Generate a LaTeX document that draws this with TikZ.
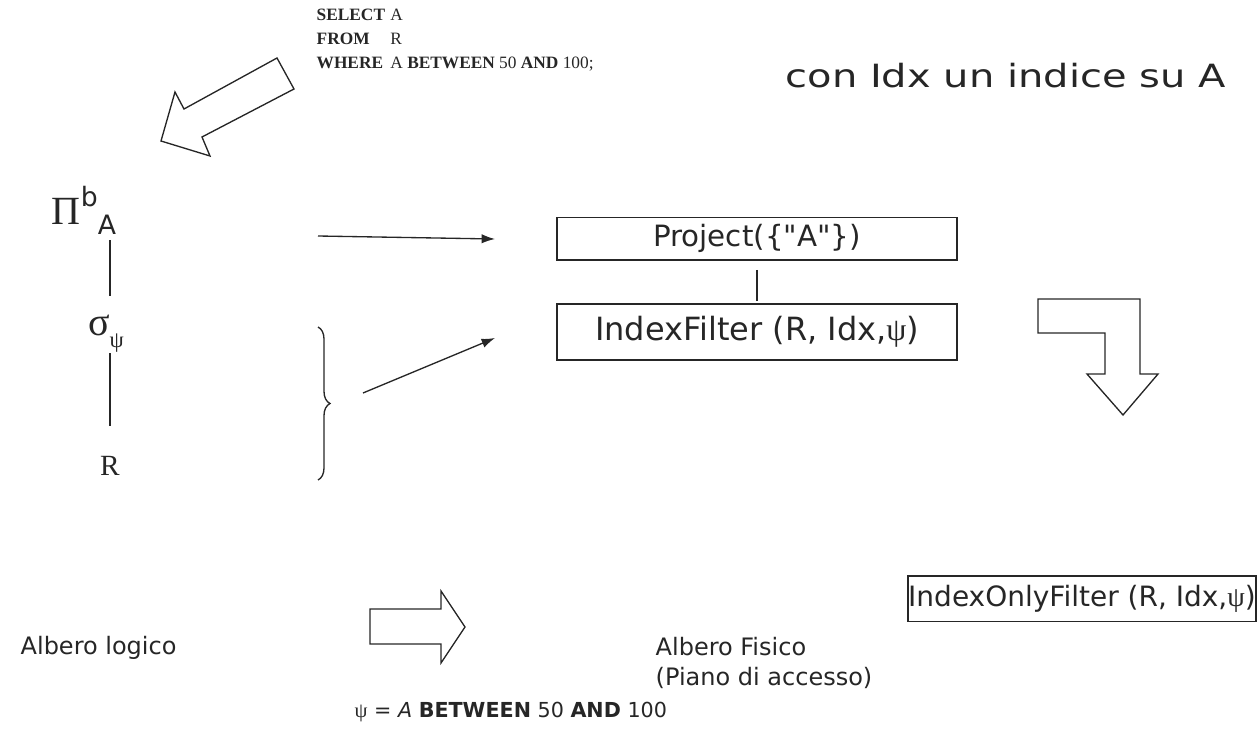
\documentclass[tikz,border=0pt]{standalone}
\usepackage{amsmath}
\usepackage{fontspec}
\setmainfont{DejaVu Sans}
\newfontfamily\timesfont{Liberation Serif}
\newfontfamily\plainsans[Ligatures=TeXOff]{DejaVu Sans}
\newfontfamily\widesans[FakeStretch=1.25]{DejaVu Sans}
\usetikzlibrary{arrows,arrows.meta,positioning,decorations.pathreplacing}

\tikzset{
  opbox/.style={draw, rectangle, inner sep=0pt},
  comic/.style={font=\plainsans\fontsize{22}{27}\selectfont},
  small/.style={font=\fontsize{18}{22}\selectfont},
  hollow/.style={draw, line width=1pt, line join=miter},
  greek/.style={inner sep=0pt, font=\timesfont\fontsize{30}{34}\selectfont},
}

\begin{document}
\begin{tikzpicture}[x=0.75pt, y=-0.75pt, color=black!85, line width=1pt]
    \useasboundingbox (0,0) rectangle (1260,742);

    % query
    \node[anchor=north west, inner sep=0pt, font=\timesfont\fontsize{13}{18}\selectfont] (query) at (316,3) {%
      \begin{tabular}{@{}l@{\hspace{4pt}}l@{}}
        \textbf{SELECT} & A\\
        \textbf{FROM} & R\\
        \textbf{WHERE} & A \textbf{BETWEEN} 50 \textbf{AND} 100;
      \end{tabular}};
    \node[font=\widesans\fontsize{24}{28}\selectfont, anchor=west, inner sep=0pt] (hint) at (785,76) {con Idx un indice su A};
    \draw[hollow] (277,58) -- (294,89) -- (202,137) -- (210,156) -- (161,141) -- (175,92) -- (184,109) -- cycle;

    % albero logico
    \node[greek] (pi) at (84,210) {Π\raisebox{0.45em}{\rmfamily\fontsize{20}{24}\selectfont b}\raisebox{-0.25em}{\rmfamily\fontsize{20}{24}\selectfont A}};
    \node[greek] (sigma) at (106,334) {σ\raisebox{-0.3em}{\fontsize{17}{20}\selectfont ψ}};
    \node[inner sep=0pt, font=\timesfont\fontsize{22}{26}\selectfont] (rel) at (110,466) {R};
    \draw[shorten <=4pt, shorten >=14pt] (rel |- pi.south) -- (rel |- sigma.north);
    \draw[shorten <=0pt, shorten >=22pt] (rel |- sigma.south) -- (rel |- rel.north);
    \draw[decorate, decoration={brace, amplitude=9pt}] (318,327) -- (318,480);

    % albero fisico
    \node[opbox, comic, minimum width=300pt, minimum height=32pt] (project) at (757,238.5) {Project(\{"A"\})};
    \node[opbox, font=\fontsize{24}{28}\selectfont, minimum width=300pt, minimum height=42pt] (filter) at (757,332) {IndexFilter (R, Idx,{\timesfont ψ})};
    \draw[shorten <=7pt, shorten >=1.5pt] (project) -- (filter);
    \node[opbox, font=\fontsize{21}{25}\selectfont, minimum width=261pt, minimum height=34pt] (onlyfilter) at (1082,598.5) {IndexOnlyFilter (R, Idx,{\timesfont ψ})};

    \coordinate (from1) at (318,236);
    \coordinate (to1) at (495,239);
    \coordinate (from2) at (363,393);
    \coordinate (to2) at (495,338);
    \draw[-{Latex[length=10pt,width=7pt]}] (from1) -- (to1);
    \draw[-{Latex[length=10pt,width=7pt]}] (from2) -- (to2);

    \draw[hollow] (1038,299) -- (1140,299) -- (1140,374) -- (1158,374) -- (1123,415) -- (1087,374) -- (1105,374) -- (1105,333) -- (1038,333) -- cycle;

    % legenda
    \node[small, anchor=west, inner sep=0pt] (logico) at (20,648) {Albero logico};
    \draw[hollow] (370,609) -- (441,609) -- (441,591) -- (465,627) -- (441,663) -- (441,644) -- (370,644) -- cycle;
    \node[small, anchor=north west, align=left, inner sep=0pt] (fisico) at (655,637) {Albero Fisico\\(Piano di accesso)};
    \node[font=\fontsize{15.5}{20}\selectfont, anchor=west, inner sep=0pt] (psi) at (354,712) {{\timesfont ψ} = \textit{A} \textbf{BETWEEN} 50 \textbf{AND} 100};
\end{tikzpicture}
\end{document}
